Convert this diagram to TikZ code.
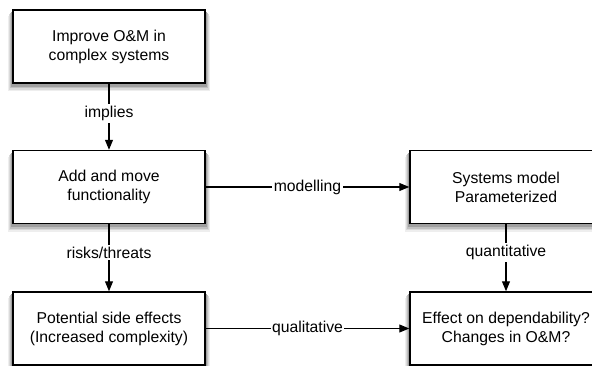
\documentclass[tikz,border=0pt]{standalone}
\usepackage{fontspec}
\setmainfont{Liberation Sans}
\usetikzlibrary{arrows.meta}
\definecolor{shA}{RGB}{238,238,238}
\definecolor{shB}{RGB}{218,218,218}
\definecolor{shC}{RGB}{192,192,192}
\definecolor{shD}{RGB}{160,160,160}
\begin{document}
\begin{tikzpicture}[x=0.75pt,y=-0.75pt,
  txt/.style={font=\fontsize{11.8pt}{14.25pt}\selectfont},
  box/.style={txt,draw=black,line width=1.1pt,fill=white,align=center,
    minimum width=144pt,minimum height=54.75pt,inner sep=0pt},
  conn/.style={draw=black,line width=0.8pt,-{Triangle[length=7.5pt,width=6pt]}},
  lab/.style={txt,fill=white,inner xsep=1pt,inner ysep=1.5pt}]
\useasboundingbox (0,0) rectangle (592,366);
\clip (0,0) rectangle (592,366);
\fill[white] (0,0) rectangle (592,366);
\foreach \cx/\cy in {109/46.5,109/187,109/328.5,506/187,506/328.5}{
  \fill[shA] (\cx-101,\cy-30) rectangle (\cx+101,\cy+45);
  \fill[shB] (\cx-100,\cy-32) rectangle (\cx+100,\cy+43.5);
  \fill[shC] (\cx-99,\cy-33) rectangle (\cx+99,\cy+42);
  \fill[shD] (\cx-98,\cy-34) rectangle (\cx+98,\cy+40.5);
}
\node[box] (a) at (109,46.5) {Improve O\&M in\\complex systems};
\node[box] (b) at (109,187) {Add and move\\functionality};
\node[box] (c) at (109,328.5) {Potential side effects\\(Increased complexity)};
\node[box] (d) at (506,187) {Systems model\\Parameterized};
\node[box] (e) at (506,328.5) {Effect on dependability?\\Changes in O\&M?};
\draw[conn] (a) -- node[lab,pos=.45] {implies} (b);
\draw[conn] (b) -- node[lab,pos=.42] {risks/threats} (c);
\draw[conn] (d) -- node[lab,pos=.42] {quantitative} (e);
\draw[conn] (b) -- node[lab] {modelling} (d);
\draw[conn] (c) -- node[lab] {qualitative} (e);
\end{tikzpicture}
\end{document}
